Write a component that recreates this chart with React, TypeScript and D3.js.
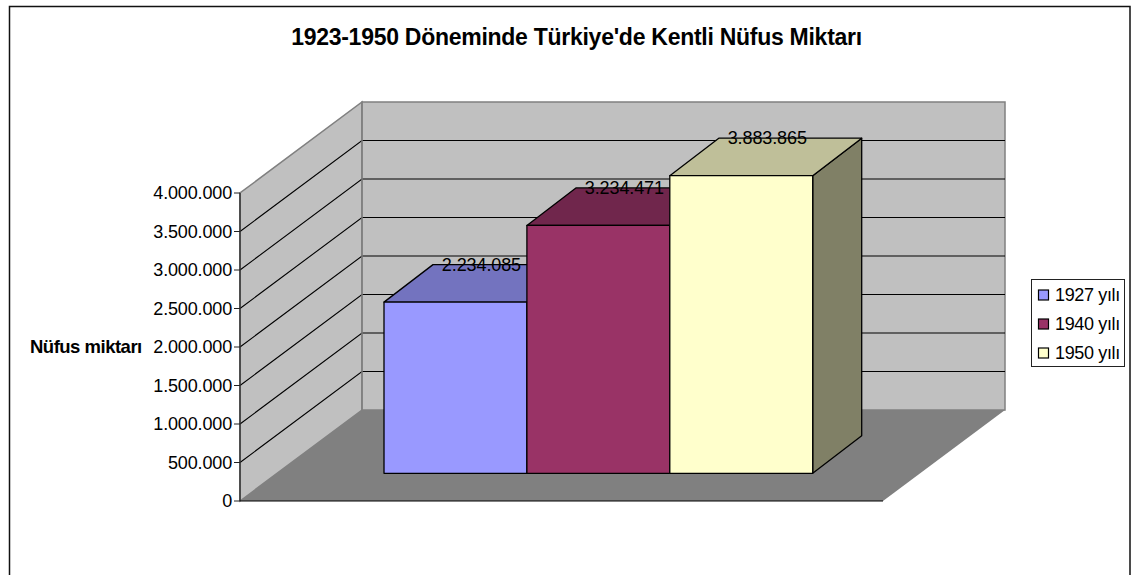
import React from "react";
import * as d3 from "d3";

const titleText = "1923-1950 Döneminde Türkiye'de Kentli Nüfus Miktarı";
const axisTitle = "Nüfus miktarı";
const seriesNames = ["1927 yılı", "1940 yılı", "1950 yılı"];
const seriesValues = [2234085, 3234471, 3883865];
const valueLabels = ["2.234.085", "3.234.471", "3.883.865"];
const tickValues = [0, 500000, 1000000, 1500000, 2000000, 2500000, 3000000, 3500000, 4000000];
const tickLabels = ["0", "500.000", "1.000.000", "1.500.000", "2.000.000", "2.500.000", "3.000.000", "3.500.000", "4.000.000"];
const frontColors = ["#9999FF", "#993366", "#FFFFCC"];
const topColors = ["#7373BF", "#70264C", "#BFBF99"];
const sideColors = ["#4D4D80", "#4D1A33", "#808066"];

const FONT = "'Liberation Sans', Arial, sans-serif";
const y = d3.scaleLinear().domain([0, 4000000]).range([501, 193]);
const barBase = 473.3;
const barY = d3.scaleLinear().domain([0, 4000000]).range([barBase, barBase - 306.5]);
const x = d3.scaleBand<string>().domain(seriesNames).range([384, 812.7]).padding(0);

const wallDx = 122;
const wallDy = 91;
const wallRight = 1005;
const floorRight = 883;
const axisX = 240;
const barDx = 49;
const barDy = 37.5;

const poly = (pts: [number, number][]) => (d3.line()(pts) || "") + "Z";

export default function App() {
  const y0 = y(0);
  const yTop = y(4000000);
  return (
    <svg
      width={1136}
      height={575}
      viewBox="0 0 1136 575"
      style={{ position: "absolute", left: 0, top: 0, background: "#fff", display: "block" }}
      fontFamily={FONT}
    >
      <path d="M9.5 575V6.5H1130V575" fill="none" stroke="#111" strokeWidth={1.5} />

      <text x={576.5} y={45} textAnchor="middle" fontSize={23} fontWeight={700} letterSpacing={-0.27} fill="#000">
        {titleText}
      </text>

      {/* walls and floor */}
      <path d={poly([[axisX, y0], [axisX + wallDx, y0 - wallDy], [axisX + wallDx, yTop - wallDy], [axisX, yTop]])} fill="#C0C0C0" stroke="#808080" strokeWidth={1.5} />
      <path d={poly([[axisX + wallDx, y0 - wallDy], [wallRight, y0 - wallDy], [wallRight, yTop - wallDy], [axisX + wallDx, yTop - wallDy]])} fill="#C0C0C0" stroke="#808080" strokeWidth={1.5} />
      <path d={poly([[axisX, y0], [axisX + wallDx, y0 - wallDy], [wallRight, y0 - wallDy], [floorRight, y0]])} fill="#808080" />

      {/* gridlines */}
      {tickValues.slice(1, -1).map((t) => (
        <path
          key={t}
          d={`M${axisX} ${y(t)}L${axisX + wallDx} ${y(t) - wallDy}H${wallRight}`}
          fill="none"
          stroke="#000"
          strokeWidth={1.1}
        />
      ))}
      <line x1={axisX + wallDx} x2={axisX + wallDx} y1={yTop - wallDy} y2={y0 - wallDy} stroke="#808080" strokeWidth={1.5} />

      {/* axis */}
      <line x1={axisX} x2={axisX} y1={yTop} y2={y0} stroke="#333" strokeWidth={1.5} />
      <line x1={axisX} x2={floorRight} y1={y0} y2={y0} stroke="#000" strokeWidth={1.2} />
      {tickValues.map((t, i) => (
        <g key={t}>
          <line x1={axisX - 6} x2={axisX} y1={y(t)} y2={y(t)} stroke="#222" strokeWidth={1} />
          <text x={232} y={y(t) + 6} textAnchor="end" fontSize={18} letterSpacing={-0.15} fill="#000">
            {tickLabels[i]}
          </text>
        </g>
      ))}
      <text x={30} y={353} fontSize={18.5} fontWeight={700} letterSpacing={-0.5} fill="#000">
        {axisTitle}
      </text>

      {/* bars */}
      {seriesNames.map((s, i) => {
        const l = x(s)!;
        const r = l + x.bandwidth();
        const b = barY(0);
        const t = barY(seriesValues[i]);
        return (
          <g key={s} stroke="#000" strokeWidth={1.3} strokeLinejoin="round">
            <path d={poly([[r, b], [r + barDx, b - barDy], [r + barDx, t - barDy], [r, t]])} fill={sideColors[i]} />
            <path d={poly([[l, t], [l + barDx, t - barDy], [r + barDx, t - barDy], [r, t]])} fill={topColors[i]} />
            <path d={poly([[l, b], [r, b], [r, t], [l, t]])} fill={frontColors[i]} />
          </g>
        );
      })}

      {/* value labels */}
      {seriesNames.map((s, i) => (
        <text
          key={s}
          x={x(s)! + x.bandwidth() / 2 + 26}
          y={barY(seriesValues[i]) - barDy + 6}
          textAnchor="middle"
          fontSize={18}
          letterSpacing={-0.1}
          fill="#000"
        >
          {valueLabels[i]}
        </text>
      ))}

      {/* legend */}
      <rect x={1031.5} y={279.5} width={93} height={87} fill="#fff" stroke="#222" strokeWidth={1} />
      {seriesNames.map((s, i) => {
        const cy = 295 + i * 29;
        return (
          <g key={s}>
            <rect x={1038.5} y={cy - 5} width={10} height={10} fill={frontColors[i]} stroke="#000" strokeWidth={1.2} />
            <text x={1055} y={cy + 6} fontSize={18} letterSpacing={-0.35} fill="#000">
              {s}
            </text>
          </g>
        );
      })}
    </svg>
  );
}
